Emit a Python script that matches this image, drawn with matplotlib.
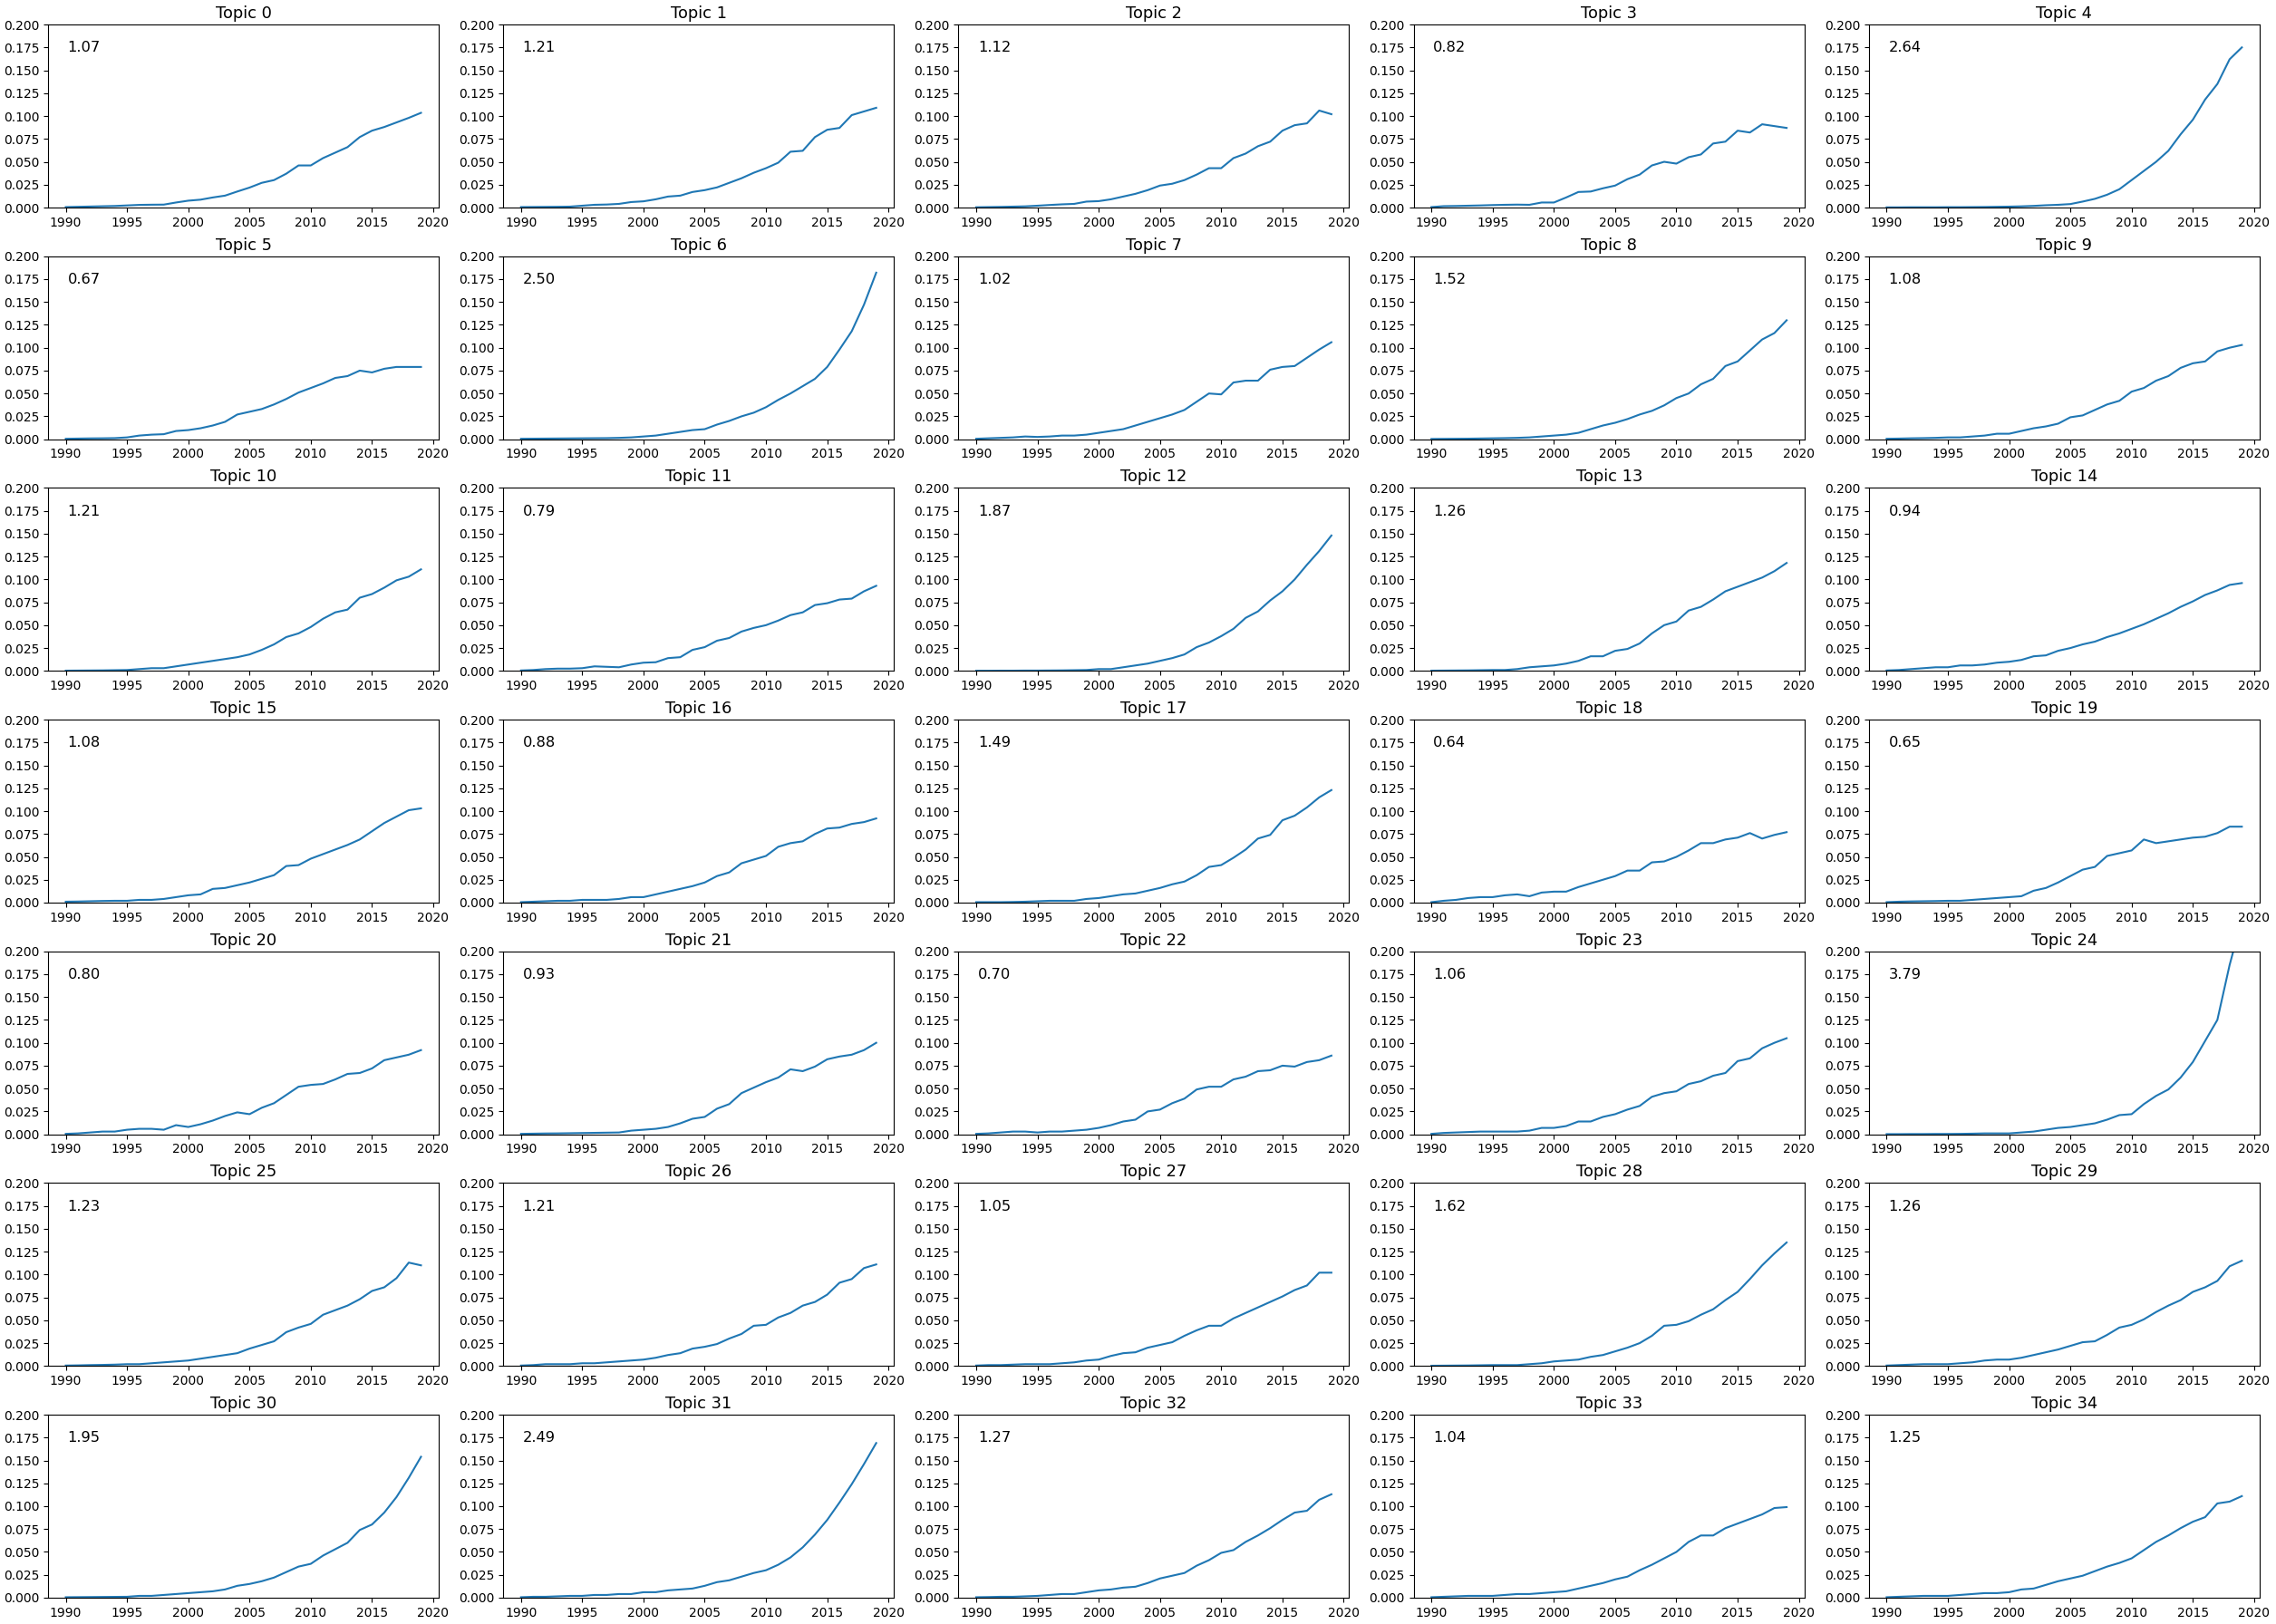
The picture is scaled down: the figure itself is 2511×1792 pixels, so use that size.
import matplotlib
matplotlib.use('Agg')
import matplotlib.pyplot as plt
from matplotlib.ticker import MultipleLocator, FormatStrFormatter

years = list(range(1990, 2020))

t00 = [0.0005, 0.0008, 0.0011, 0.0014, 0.0017, 0.0023, 0.0029, 0.0031, 0.0032, 0.0055, 0.0075, 0.0086, 0.011, 0.013, 0.0175, 0.0218, 0.027, 0.030, 0.037, 0.046, 0.046, 0.054, 0.060, 0.066, 0.077, 0.084, 0.088, 0.093, 0.098, 0.1035]
t01 = [0.0005, 0.0006, 0.0007, 0.0008, 0.001, 0.002, 0.003, 0.0033, 0.004, 0.006, 0.0068, 0.009, 0.012, 0.013, 0.017, 0.019, 0.022, 0.027, 0.032, 0.038, 0.043, 0.049, 0.061, 0.062, 0.077, 0.085, 0.087, 0.101, 0.105, 0.109]
t02 = [0.0003, 0.0005, 0.0007, 0.001, 0.0013, 0.002, 0.0028, 0.0035, 0.004, 0.0065, 0.007, 0.009, 0.012, 0.015, 0.019, 0.024, 0.026, 0.030, 0.036, 0.043, 0.043, 0.054, 0.059, 0.067, 0.072, 0.084, 0.090, 0.092, 0.106, 0.102]
t03 = [0.0005, 0.0015, 0.0017, 0.002, 0.0023, 0.0027, 0.003, 0.0032, 0.003, 0.0055, 0.0055, 0.011, 0.017, 0.0175, 0.021, 0.024, 0.031, 0.036, 0.046, 0.050, 0.048, 0.055, 0.058, 0.070, 0.072, 0.084, 0.082, 0.091, 0.089, 0.087]
t04 = [0.0002, 0.0002, 0.0003, 0.0003, 0.0003, 0.0004, 0.0004, 0.0005, 0.0006, 0.0008, 0.001, 0.0013, 0.0018, 0.0025, 0.003, 0.0038, 0.0065, 0.0095, 0.014, 0.020, 0.030, 0.040, 0.050, 0.062, 0.080, 0.096, 0.118, 0.135, 0.162, 0.175]
t05 = [0.0005, 0.0007, 0.0009, 0.001, 0.0012, 0.002, 0.004, 0.005, 0.0055, 0.009, 0.010, 0.012, 0.015, 0.019, 0.027, 0.030, 0.033, 0.038, 0.044, 0.051, 0.056, 0.061, 0.067, 0.069, 0.075, 0.073, 0.077, 0.079, 0.079, 0.079]
t06 = [0.0005, 0.0006, 0.0007, 0.0008, 0.0009, 0.001, 0.0011, 0.0012, 0.0015, 0.002, 0.003, 0.004, 0.006, 0.008, 0.010, 0.011, 0.016, 0.020, 0.025, 0.029, 0.035, 0.043, 0.050, 0.058, 0.066, 0.079, 0.098, 0.118, 0.147, 0.182]
t07 = [0.0005, 0.001, 0.0015, 0.002, 0.003, 0.0025, 0.003, 0.004, 0.004, 0.005, 0.007, 0.009, 0.011, 0.015, 0.019, 0.023, 0.027, 0.032, 0.041, 0.050, 0.049, 0.062, 0.064, 0.064, 0.076, 0.079, 0.080, 0.089, 0.098, 0.106]
t08 = [0.0003, 0.0004, 0.0005, 0.0006, 0.0008, 0.001, 0.0012, 0.0015, 0.002, 0.003, 0.004, 0.005, 0.007, 0.011, 0.015, 0.018, 0.022, 0.027, 0.031, 0.037, 0.045, 0.050, 0.060, 0.066, 0.080, 0.085, 0.097, 0.109, 0.116, 0.130]
t09 = [0.0005, 0.0007, 0.001, 0.0012, 0.0015, 0.002, 0.002, 0.003, 0.004, 0.006, 0.006, 0.009, 0.012, 0.014, 0.017, 0.024, 0.026, 0.032, 0.038, 0.042, 0.052, 0.056, 0.064, 0.069, 0.078, 0.083, 0.085, 0.096, 0.100, 0.103]
t10 = [0.0003, 0.0004, 0.0005, 0.0006, 0.0008, 0.001, 0.002, 0.003, 0.003, 0.005, 0.007, 0.009, 0.011, 0.013, 0.015, 0.018, 0.023, 0.029, 0.037, 0.041, 0.048, 0.057, 0.064, 0.067, 0.080, 0.084, 0.091, 0.099, 0.103, 0.111]
t11 = [0.0005, 0.001, 0.002, 0.0025, 0.0025, 0.003, 0.005, 0.0045, 0.004, 0.007, 0.009, 0.0095, 0.014, 0.015, 0.023, 0.026, 0.033, 0.036, 0.043, 0.047, 0.050, 0.055, 0.061, 0.064, 0.072, 0.074, 0.078, 0.079, 0.087, 0.093]
t12 = [0.0002, 0.0002, 0.0003, 0.0003, 0.0004, 0.0004, 0.0005, 0.0006, 0.0008, 0.001, 0.002, 0.002, 0.004, 0.006, 0.008, 0.011, 0.014, 0.018, 0.026, 0.031, 0.038, 0.046, 0.058, 0.065, 0.077, 0.087, 0.100, 0.116, 0.131, 0.148]
t13 = [0.0003, 0.0004, 0.0005, 0.0006, 0.0008, 0.001, 0.001, 0.002, 0.004, 0.005, 0.006, 0.008, 0.011, 0.016, 0.016, 0.022, 0.024, 0.030, 0.041, 0.050, 0.054, 0.066, 0.070, 0.078, 0.087, 0.092, 0.097, 0.102, 0.109, 0.118]
t14 = [0.0005, 0.001, 0.002, 0.003, 0.004, 0.004, 0.006, 0.006, 0.007, 0.009, 0.010, 0.012, 0.016, 0.017, 0.022, 0.025, 0.029, 0.032, 0.037, 0.041, 0.046, 0.051, 0.057, 0.063, 0.070, 0.076, 0.083, 0.088, 0.094, 0.096]
t15 = [0.001, 0.0012, 0.0015, 0.0018, 0.002, 0.002, 0.003, 0.003, 0.004, 0.006, 0.008, 0.009, 0.015, 0.016, 0.019, 0.022, 0.026, 0.030, 0.040, 0.041, 0.048, 0.053, 0.058, 0.063, 0.069, 0.078, 0.087, 0.094, 0.101, 0.103]
t16 = [0.0005, 0.001, 0.0015, 0.002, 0.002, 0.003, 0.003, 0.003, 0.004, 0.006, 0.006, 0.009, 0.012, 0.015, 0.018, 0.022, 0.029, 0.033, 0.043, 0.047, 0.051, 0.061, 0.065, 0.067, 0.075, 0.081, 0.082, 0.086, 0.088, 0.092]
t17 = [0.0005, 0.0005, 0.0005, 0.0007, 0.001, 0.0015, 0.002, 0.002, 0.002, 0.004, 0.005, 0.007, 0.009, 0.010, 0.013, 0.016, 0.020, 0.023, 0.030, 0.039, 0.041, 0.049, 0.058, 0.070, 0.074, 0.090, 0.095, 0.104, 0.115, 0.123]
t18 = [0.0005, 0.002, 0.003, 0.005, 0.006, 0.006, 0.008, 0.009, 0.007, 0.011, 0.012, 0.012, 0.017, 0.021, 0.025, 0.029, 0.035, 0.035, 0.044, 0.045, 0.050, 0.057, 0.065, 0.065, 0.069, 0.071, 0.076, 0.070, 0.074, 0.077]
t19 = [0.0005, 0.001, 0.0013, 0.0015, 0.0017, 0.002, 0.002, 0.003, 0.004, 0.005, 0.006, 0.007, 0.013, 0.016, 0.022, 0.029, 0.036, 0.039, 0.051, 0.054, 0.057, 0.069, 0.065, 0.067, 0.069, 0.071, 0.072, 0.076, 0.083, 0.083]
t20 = [0.0005, 0.001, 0.002, 0.003, 0.003, 0.005, 0.006, 0.006, 0.005, 0.010, 0.008, 0.011, 0.015, 0.020, 0.024, 0.022, 0.029, 0.034, 0.043, 0.052, 0.054, 0.055, 0.060, 0.066, 0.067, 0.072, 0.081, 0.084, 0.087, 0.092]
t21 = [0.0005, 0.0007, 0.0009, 0.001, 0.0012, 0.0014, 0.0016, 0.0018, 0.002, 0.004, 0.005, 0.006, 0.008, 0.012, 0.017, 0.019, 0.028, 0.033, 0.045, 0.051, 0.057, 0.062, 0.071, 0.069, 0.074, 0.082, 0.085, 0.087, 0.092, 0.100]
t22 = [0.0005, 0.001, 0.002, 0.003, 0.003, 0.002, 0.003, 0.003, 0.004, 0.005, 0.007, 0.010, 0.014, 0.016, 0.025, 0.027, 0.034, 0.039, 0.049, 0.052, 0.052, 0.060, 0.063, 0.069, 0.070, 0.075, 0.074, 0.079, 0.081, 0.086]
t23 = [0.0005, 0.0015, 0.002, 0.0025, 0.003, 0.003, 0.003, 0.003, 0.004, 0.007, 0.007, 0.009, 0.014, 0.014, 0.019, 0.022, 0.027, 0.031, 0.041, 0.045, 0.047, 0.055, 0.058, 0.064, 0.067, 0.080, 0.083, 0.094, 0.100, 0.105]
t24 = [0.0002, 0.0002, 0.0003, 0.0003, 0.0004, 0.0004, 0.0005, 0.0007, 0.001, 0.001, 0.001, 0.002, 0.003, 0.005, 0.007, 0.008, 0.010, 0.012, 0.016, 0.021, 0.022, 0.033, 0.042, 0.049, 0.062, 0.079, 0.102, 0.125, 0.185, 0.235]
t25 = [0.0005, 0.0007, 0.001, 0.0012, 0.0015, 0.002, 0.002, 0.003, 0.004, 0.005, 0.006, 0.008, 0.010, 0.012, 0.014, 0.019, 0.023, 0.027, 0.037, 0.042, 0.046, 0.056, 0.061, 0.066, 0.073, 0.082, 0.086, 0.096, 0.113, 0.110]
t26 = [0.0005, 0.001, 0.002, 0.002, 0.002, 0.003, 0.003, 0.004, 0.005, 0.006, 0.007, 0.009, 0.012, 0.014, 0.019, 0.021, 0.024, 0.030, 0.035, 0.044, 0.045, 0.053, 0.058, 0.066, 0.070, 0.078, 0.091, 0.095, 0.107, 0.111]
t27 = [0.0005, 0.001, 0.001, 0.0015, 0.002, 0.002, 0.002, 0.003, 0.004, 0.006, 0.007, 0.011, 0.014, 0.015, 0.020, 0.023, 0.026, 0.033, 0.039, 0.044, 0.044, 0.052, 0.058, 0.064, 0.070, 0.076, 0.083, 0.088, 0.102, 0.102]
t28 = [0.0003, 0.0004, 0.0005, 0.0006, 0.0008, 0.001, 0.001, 0.001, 0.002, 0.003, 0.005, 0.006, 0.007, 0.010, 0.012, 0.016, 0.020, 0.025, 0.033, 0.044, 0.045, 0.049, 0.056, 0.062, 0.072, 0.081, 0.095, 0.110, 0.123, 0.135]
t29 = [0.0005, 0.001, 0.0015, 0.002, 0.002, 0.002, 0.003, 0.004, 0.006, 0.007, 0.007, 0.009, 0.012, 0.015, 0.018, 0.022, 0.026, 0.027, 0.034, 0.042, 0.045, 0.051, 0.059, 0.066, 0.072, 0.081, 0.086, 0.093, 0.109, 0.115]
t30 = [0.0005, 0.0006, 0.0007, 0.0008, 0.0009, 0.001, 0.002, 0.002, 0.003, 0.004, 0.005, 0.006, 0.007, 0.009, 0.013, 0.015, 0.018, 0.022, 0.028, 0.034, 0.037, 0.046, 0.053, 0.060, 0.074, 0.080, 0.093, 0.110, 0.131, 0.154]
t31 = [0.0005, 0.001, 0.001, 0.0015, 0.002, 0.002, 0.003, 0.003, 0.004, 0.004, 0.006, 0.006, 0.008, 0.009, 0.010, 0.013, 0.017, 0.019, 0.023, 0.027, 0.030, 0.036, 0.044, 0.055, 0.069, 0.085, 0.104, 0.124, 0.146, 0.169]
t32 = [0.0005, 0.0007, 0.001, 0.001, 0.0015, 0.002, 0.003, 0.004, 0.004, 0.006, 0.008, 0.009, 0.011, 0.012, 0.016, 0.021, 0.024, 0.027, 0.035, 0.041, 0.049, 0.052, 0.061, 0.068, 0.076, 0.085, 0.093, 0.095, 0.107, 0.113]
t33 = [0.0005, 0.001, 0.0015, 0.002, 0.002, 0.002, 0.003, 0.004, 0.004, 0.005, 0.006, 0.007, 0.010, 0.013, 0.016, 0.020, 0.023, 0.030, 0.036, 0.043, 0.050, 0.061, 0.068, 0.068, 0.076, 0.081, 0.086, 0.091, 0.098, 0.099]
t34 = [0.0005, 0.001, 0.0015, 0.002, 0.002, 0.002, 0.003, 0.004, 0.005, 0.005, 0.006, 0.009, 0.010, 0.014, 0.018, 0.021, 0.024, 0.029, 0.034, 0.038, 0.043, 0.052, 0.061, 0.068, 0.076, 0.083, 0.088, 0.103, 0.105, 0.111]

topics = [t00, t01, t02, t03, t04, t05, t06, t07, t08, t09,
          t10, t11, t12, t13, t14, t15, t16, t17, t18, t19,
          t20, t21, t22, t23, t24, t25, t26, t27, t28, t29,
          t30, t31, t32, t33, t34]

growth = ['1.07', '1.21', '1.12', '0.82', '2.64', '0.67', '2.50', '1.02', '1.52', '1.08',
          '1.21', '0.79', '1.87', '1.26', '0.94', '1.08', '0.88', '1.49', '0.64', '0.65',
          '0.80', '0.93', '0.70', '1.06', '3.79', '1.23', '1.21', '1.05', '1.62', '1.26',
          '1.95', '2.49', '1.27', '1.04', '1.25']

fig, axes = plt.subplots(7, 5, figsize=(25.11, 17.92), dpi=100)
fig.subplots_adjust(left=0.0211, right=0.9928, top=0.9849, bottom=0.0162,
                    wspace=0.165, hspace=0.266)

for i, ax in enumerate(axes.flat):
    ax.plot(years, topics[i], color='#1f77b4', lw=1.5)
    ax.set_ylim(0, 0.2)
    ax.yaxis.set_major_locator(MultipleLocator(0.025))
    ax.yaxis.set_major_formatter(FormatStrFormatter('%.3f'))
    ax.set_title(f'Topic {i}', fontsize=12.9, pad=5)
    ax.text(0.05, 0.85, growth[i], transform=ax.transAxes, fontsize=11.7)
    ax.tick_params(labelsize=10)

fig.savefig('out.png', dpi=100, facecolor='white')
